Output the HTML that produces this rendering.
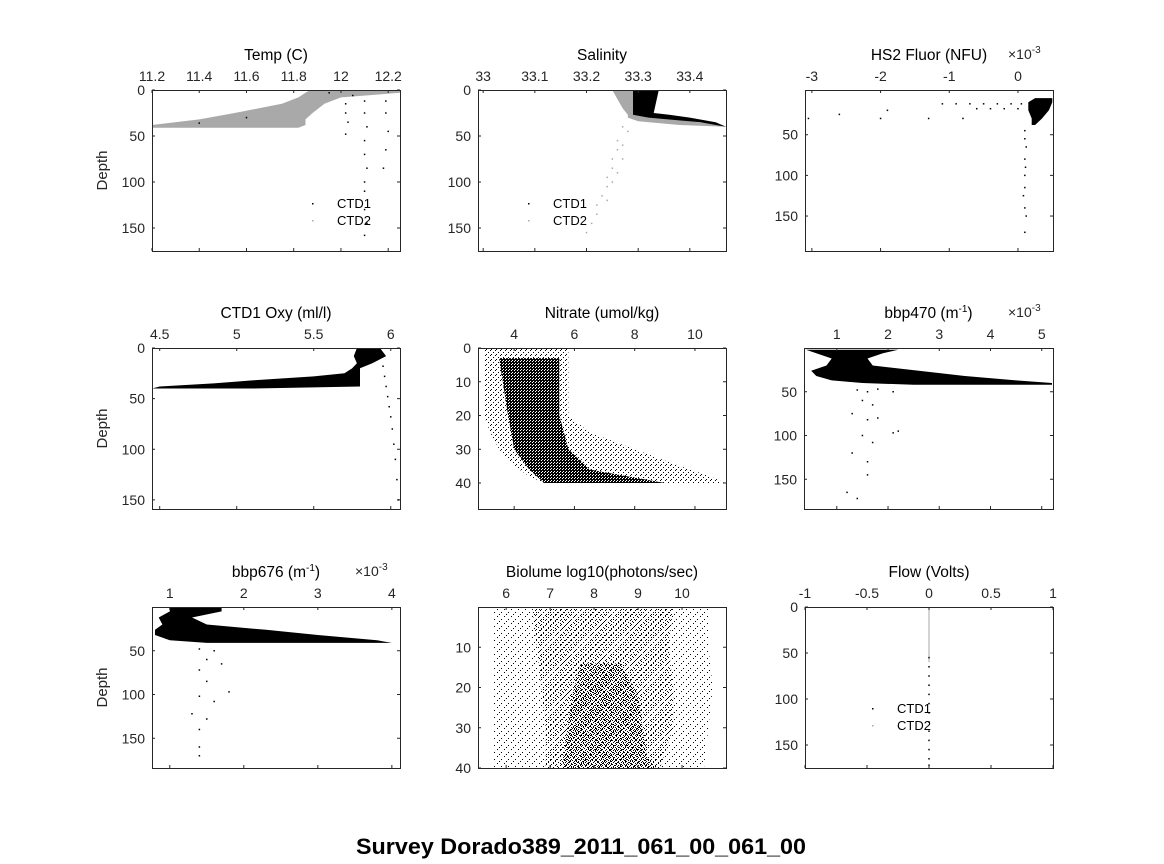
<!DOCTYPE html>
<html><head><meta charset="utf-8"><style>
body{margin:0;background:#fff;}
svg{display:block;font-family:"Liberation Sans","DejaVu Sans",sans-serif;}
</style></head><body>
<svg id="fig" width="1164" height="864" viewBox="0 0 1164 864">
<defs>
<pattern id="sparse" width="7" height="7" patternUnits="userSpaceOnUse"><rect x="0" y="0" width="1" height="1" fill="#000"/><rect x="4" y="3" width="1" height="1" fill="#000"/><rect x="2" y="5" width="1" height="1" fill="#000"/></pattern>
<pattern id="light" width="5" height="5" patternUnits="userSpaceOnUse"><rect x="0" y="0" width="1" height="1" fill="#000"/><rect x="3" y="2" width="1" height="1" fill="#000"/><rect x="1" y="4" width="1" height="1" fill="#000"/></pattern>
<pattern id="medium" width="4" height="4" patternUnits="userSpaceOnUse"><rect x="0" y="0" width="1" height="1" fill="#000"/><rect x="2" y="1" width="1" height="1" fill="#000"/><rect x="1" y="2" width="1" height="1" fill="#000"/><rect x="3" y="3" width="1" height="1" fill="#000"/></pattern>
<pattern id="dense" width="3" height="3" patternUnits="userSpaceOnUse"><rect width="3" height="3" fill="#000"/><rect x="1" y="1" width="1" height="1" fill="#fff"/><rect x="2" y="0" width="1" height="1" fill="#fff"/></pattern>
</defs>
<text x="581" y="854" text-anchor="middle" font-size="22" font-weight="bold" fill="#000" textLength="450" lengthAdjust="spacingAndGlyphs">Survey Dorado389_2011_061_00_061_00</text>
</svg>
<script>
// ---- data arrays ----
const tempTicks=[11.2,11.4,11.6,11.8,12,12.2];
const tempTickLabels=["11.2","11.4","11.6","11.8","12","12.2"];
const depthTicks=[0,50,100,150];
const depthTicks3=[50,100,150];
const tempBandDepth=[0,3,8,15,25,32,38,41];
const tempBandLo=[11.87,11.85,11.82,11.75,11.55,11.4,11.2,11.2];
const tempBandHi=[12.25,12.25,12.0,11.93,11.88,11.85,11.85,11.82];
const tempDotX=[12.1,12.1,12.11,12.1,12.1,12.11,12.1,12.1,12.1,12.11,12.1,12.02,12.02,12.03,12.02,12.19,12.19,12.2,12.19,12.18,11.95,12.05,11.6,11.4];
const tempDotY=[12,25,40,55,70,85,100,110,130,145,158,15,25,35,48,12,25,45,65,85,3,6,30,36];

const salTicks=[33,33.1,33.2,33.3,33.4];
const salTickLabels=["33","33.1","33.2","33.3","33.4"];
const salGrayDepth=[0,10,20,27,30,34,38,40];
const salGrayLo=[33.25,33.26,33.27,33.28,33.28,33.30,33.38,33.47];
const salGrayHi=[33.29,33.29,33.29,33.30,33.34,33.40,33.46,33.47];
const salBlackDepth=[0,25,27,30,35,40];
const salBlackLo=[33.29,33.29,33.29,33.32,33.42,33.47];
const salBlackHi=[33.34,33.33,33.36,33.40,33.45,33.47];
const salDotX=[33.27,33.26,33.26,33.25,33.25,33.24,33.24,33.23,33.22,33.22,33.21,33.2,33.28,33.27,33.27,33.26,33.25,33.24];
const salDotY=[40,55,65,75,85,95,105,115,125,135,145,155,45,60,75,90,100,120];

const fluTicks=[-3,-2,-1,0];
const fluTickLabels=["-3","-2","-1","0"];
const fluBandDepth=[5,10,20,30,38];
const fluBandLo=[0.25,0.15,0.15,0.2,0.2];
const fluBandHi=[0.5,0.5,0.45,0.35,0.25];
const fluDotX=[-1.1,-0.9,-0.7,-0.5,-0.3,-0.1,0.05,-0.6,-0.4,-0.2,0,-2.0,-0.8,-1.3,-2.6,-3.05,-1.9,0.1,0.1,0.12,0.1,0.11,0.1,0.1,0.08,0.1,0.12,0.1];
const fluDotY=[12,12,12,12,12,12,12,18,18,18,18,30,30,30,25,30,20,45,55,65,80,90,100,115,125,140,150,170];

const oxyTicks=[4.5,5,5.5,6];
const oxyTickLabels=["4.5","5","5.5","6"];
const oxyBandDepth=[0,8,15,20,25,28,32,35,38,40];
const oxyBandLo=[5.78,5.76,5.78,5.75,5.7,5.5,5.1,4.85,4.5,4.45];
const oxyBandHi=[5.93,5.97,5.88,5.8,5.8,5.8,5.8,5.8,5.8,5.1];
const oxyDotX=[5.95,5.96,5.97,5.98,5.99,6.0,6.01,6.02,6.03,6.04,6.05];
const oxyDotY=[18,28,38,48,58,68,80,95,110,130,150];

const nitTicks=[4,6,8,10];
const nitTickLabels=["4","6","8","10"];
const nitDepthTicks=[0,10,20,30,40];
const nitSparseDepth=[0,3,20,25,30,35,38,40];
const nitSparseLo=[3.0,3.0,3.0,3.2,3.5,4.0,4.5,5.0];
const nitSparseHi=[5.8,5.8,5.8,6.5,8.0,9.5,10.5,11.0];
const nitDenseDepth=[3,20,30,36,40];
const nitDenseLo=[3.5,3.8,4.0,4.5,5.0];
const nitDenseHi=[5.5,5.5,5.8,6.5,9.0];

const b470Ticks=[1,2,3,4,5];
const b470TickLabels=["1","2","3","4","5"];
const b470BandDepth=[2,6,12,20,26,32,37,40,42];
const b470BandLo=[0.4,0.6,0.9,0.8,0.5,0.6,0.9,1.5,2.5];
const b470BandHi=[2.2,1.9,1.6,1.7,2.6,3.5,4.5,5.2,5.2];
const b470DotX=[1.4,1.6,1.8,2.1,1.5,1.7,1.3,1.6,1.8,2.2,2.1,1.5,1.7,1.3,1.6,1.6,1.2,1.4];
const b470DotY=[48,50,47,50,60,65,75,82,80,95,97,100,108,120,130,145,165,172];

const b676Ticks=[1,2,3,4];
const b676TickLabels=["1","2","3","4"];
const b676BandDepth=[0,5,12,20,26,32,38,41];
const b676BandLo=[1.0,1.0,0.85,0.9,0.8,0.8,1.0,1.5];
const b676BandHi=[1.7,1.7,1.3,1.5,2.3,3.0,3.8,4.0];
const b676DotX=[1.4,1.6,1.5,1.7,1.4,1.5,1.8,1.4,1.6,1.3,1.5,1.4,1.4,1.4];
const b676DotY=[48,50,60,65,72,85,97,102,108,122,128,140,160,170];

const bioTicks=[6,7,8,9,10];
const bioTickLabels=["6","7","8","9","10"];
const bioDepthTicks=[10,20,30,40];
const bioSparseDepth=[0,10,20,30,40];
const bioSparseLo=[5.7,5.7,5.7,5.7,5.7];
const bioSparseHi=[10.6,10.6,10.7,10.6,10.5];
const bioMedDepth=[0,10,20,30,40];
const bioMedLo=[6.6,6.7,6.8,6.9,6.9];
const bioMedHi=[9.8,9.7,9.8,9.8,9.5];
const bioDenseDepth=[14,22,30,37,40];
const bioDenseLo=[7.7,7.5,7.4,7.3,7.3];
const bioDenseHi=[8.6,9.0,9.1,9.2,9.4];

const flowTicks=[-1,-0.5,0,0.5,1];
const flowTickLabels=["-1","-0.5","0","0.5","1"];
const flowLineDepth=[0,60];
const flowDotX=[0,0,0,0,0,0,0,0,0,0,0,0,0];
const flowDotY=[55,65,75,85,95,105,115,125,135,145,155,165,172];

// ---- drawing ----
const NS="http://www.w3.org/2000/svg";
const svg=document.getElementById('fig');
function mk(tag,attrs,parent){const e=document.createElementNS(NS,tag);for(const k in attrs)e.setAttribute(k,attrs[k]);(parent||svg).appendChild(e);return e;}

function panel(cfg){
  const g=mk('g',{});
  
  
  const sx=v=>cfg.x+(v-cfg.xmin)/(cfg.xmax-cfg.xmin)*cfg.w;
  const sy=v=>cfg.y+(v-cfg.ymin)/(cfg.ymax-cfg.ymin)*cfg.h;
  const clip=mk('clipPath',{id:'c'+cfg.name},g);
  mk('rect',{x:cfg.x,y:cfg.y,width:cfg.w,height:cfg.h},clip);
  const dg=mk('g',{'clip-path':'url(#c'+cfg.name+')'},g);
  (cfg.bands||[]).forEach(b=>{
    let d='';
    b.depth.forEach((dp,i)=>{d+=(i?'L':'M')+sx(b.lo[i]).toFixed(1)+','+sy(dp).toFixed(1);});
    for(let i=b.depth.length-1;i>=0;i--)d+='L'+sx(b.hi[i]).toFixed(1)+','+sy(b.depth[i]).toFixed(1);
    d+='Z';
    const p=mk('path',{d:d,fill:b.fill},dg);
    
    
  });
  (cfg.lines||[]).forEach(l=>{
    const p=mk('line',{x1:sx(l.x),x2:sx(l.x),y1:sy(l.d[0]),y2:sy(l.d[1]),stroke:l.color,'stroke-width':1},dg);
    
    
  });
  (cfg.dots||[]).forEach(s=>{
    s.x.forEach((v,i)=>{
      const r=mk('rect',{x:sx(v)-0.75,y:sy(s.y[i])-0.75,width:1.5,height:1.5,fill:s.color},dg);
      
      
    });
  });
  const box=mk('rect',{x:cfg.x+0.5,y:cfg.y+0.5,width:cfg.w,height:cfg.h,fill:'none',stroke:'#262626','stroke-width':1},g);
  
  
  cfg.xt.forEach((v,i)=>{
    const X=sx(v);
    mk('line',{x1:X,x2:X,y1:cfg.y,y2:cfg.y+3,stroke:'#262626'},g);
    mk('line',{x1:X,x2:X,y1:cfg.y+cfg.h,y2:cfg.y+cfg.h-3,stroke:'#262626'},g);
    const t=mk('text',{x:X,y:cfg.y-9,'text-anchor':'middle','font-size':14,fill:'#262626'},g);
    t.textContent=cfg.xl[i];
    
    
  });
  cfg.yt.forEach(v=>{
    const Y=sy(v);
    mk('line',{x1:cfg.x,x2:cfg.x+3,y1:Y,y2:Y,stroke:'#262626'},g);
    mk('line',{x1:cfg.x+cfg.w,x2:cfg.x+cfg.w-3,y1:Y,y2:Y,stroke:'#262626'},g);
    const t=mk('text',{x:cfg.x-7,y:Y+5,'text-anchor':'end','font-size':14,fill:'#262626'},g);
    t.textContent=String(v);
    
    
  });
  const tt=mk('text',{x:cfg.x+cfg.w/2,y:cfg.y-30,'text-anchor':'middle','font-size':15.5,fill:'#000'},g);
  tt.innerHTML=cfg.title;
  
  
  if(cfg.exp){
    const e=mk('text',{x:cfg.x+cfg.w-45,y:cfg.y-31,'font-size':14,fill:'#262626'},g);
    e.innerHTML='×10<tspan dy="-6" font-size="10">-3</tspan>';
    
    
  }
  if(cfg.ylabel){
    const yl=mk('text',{x:0,y:0,'text-anchor':'middle','font-size':15,fill:'#262626',transform:'translate('+(cfg.x-45)+','+(cfg.y+cfg.h/2)+') rotate(-90)'},g);
    yl.textContent='Depth';
    
    
  }
  if(cfg.legend){
    const L=cfg.legend;
    [['CTD1','#000',0],['CTD2','#aaa',17]].forEach(([lab,c,dy])=>{
      mk('rect',{x:L[0]-25,y:L[1]+dy-5,width:1.5,height:1.5,fill:c},g);
      const t=mk('text',{x:L[0],y:L[1]+dy,'font-size':13,fill:'#000'},g);
      t.textContent=lab;
      
      
    });
  }
}
const G='#a9a9a9';
panel({name:'temp',x:152,y:90,w:248,h:161,xmin:11.2,xmax:12.25,ymin:0,ymax:175,xt:tempTicks,xl:tempTickLabels,yt:depthTicks,title:'Temp (C)',ylabel:true,legend:[337,208],
  bands:[{name:'temp-ctd2-band',depth:tempBandDepth,lo:tempBandLo,hi:tempBandHi,fill:G}],
  dots:[{name:'temp-ctd1-point',x:tempDotX,y:tempDotY,color:'#000'}]});
panel({name:'salinity',x:478,y:90,w:248,h:161,xmin:32.99,xmax:33.47,ymin:0,ymax:175,xt:salTicks,xl:salTickLabels,yt:depthTicks,title:'Salinity',legend:[553,208],
  bands:[{name:'salinity-ctd2-band',depth:salGrayDepth,lo:salGrayLo,hi:salGrayHi,fill:G},{name:'salinity-ctd1-band',depth:salBlackDepth,lo:salBlackLo,hi:salBlackHi,fill:'#000'}],
  dots:[{name:'salinity-ctd2-point',x:salDotX,y:salDotY,color:G}]});
panel({name:'fluor',x:805,y:90,w:248,h:161,xmin:-3.1,xmax:0.51,ymin:-5,ymax:193,xt:fluTicks,xl:fluTickLabels,yt:depthTicks3,title:'HS2 Fluor (NFU)',exp:true,
  bands:[{name:'fluor-band',depth:fluBandDepth,lo:fluBandLo,hi:fluBandHi,fill:'#000'}],
  dots:[{name:'fluor-point',x:fluDotX,y:fluDotY,color:'#000'}]});
panel({name:'oxygen',x:152,y:348,w:248,h:161,xmin:4.45,xmax:6.06,ymin:0,ymax:159,xt:oxyTicks,xl:oxyTickLabels,yt:depthTicks,title:'CTD1 Oxy (ml/l)',ylabel:true,
  bands:[{name:'oxygen-band',depth:oxyBandDepth,lo:oxyBandLo,hi:oxyBandHi,fill:'#000'}],
  dots:[{name:'oxygen-point',x:oxyDotX,y:oxyDotY,color:'#000'}]});
panel({name:'nitrate',x:478,y:348,w:248,h:161,xmin:2.8,xmax:11.03,ymin:0,ymax:47.7,xt:nitTicks,xl:nitTickLabels,yt:nitDepthTicks,title:'Nitrate (umol/kg)',
  bands:[{name:'nitrate-sparse-cloud',depth:nitSparseDepth,lo:nitSparseLo,hi:nitSparseHi,fill:'url(#light)'},{name:'nitrate-dense-cloud',depth:nitDenseDepth,lo:nitDenseLo,hi:nitDenseHi,fill:'url(#dense)'}]});
panel({name:'bbp470',x:804,y:348,w:249,h:161,xmin:0.36,xmax:5.22,ymin:0,ymax:184,xt:b470Ticks,xl:b470TickLabels,yt:depthTicks3,title:'bbp470 (m<tspan dy="-6" font-size="10">-1</tspan><tspan dy="6">)</tspan>',exp:true,
  bands:[{name:'bbp470-band',depth:b470BandDepth,lo:b470BandLo,hi:b470BandHi,fill:'#000'}],
  dots:[{name:'bbp470-point',x:b470DotX,y:b470DotY,color:'#000'}]});
panel({name:'bbp676',x:152,y:607,w:248,h:161,xmin:0.76,xmax:4.11,ymin:0,ymax:184,xt:b676Ticks,xl:b676TickLabels,yt:depthTicks3,title:'bbp676 (m<tspan dy="-6" font-size="10">-1</tspan><tspan dy="6">)</tspan>',exp:true,ylabel:true,
  bands:[{name:'bbp676-band',depth:b676BandDepth,lo:b676BandLo,hi:b676BandHi,fill:'#000'}],
  dots:[{name:'bbp676-point',x:b676DotX,y:b676DotY,color:'#000'}]});
panel({name:'biolume',x:478,y:607,w:248,h:161,xmin:5.36,xmax:11.0,ymin:0,ymax:40,xt:bioTicks,xl:bioTickLabels,yt:bioDepthTicks,title:'Biolume log10(photons/sec)',
  bands:[{name:'biolume-sparse-cloud',depth:bioSparseDepth,lo:bioSparseLo,hi:bioSparseHi,fill:'url(#sparse)'},{name:'biolume-medium-cloud',depth:bioMedDepth,lo:bioMedLo,hi:bioMedHi,fill:'url(#light)'},{name:'biolume-dense-cloud',depth:bioDenseDepth,lo:bioDenseLo,hi:bioDenseHi,fill:'url(#medium)'}]});
panel({name:'flow',x:805,y:607,w:248,h:161,xmin:-1,xmax:1,ymin:0,ymax:175,xt:flowTicks,xl:flowTickLabels,yt:depthTicks,title:'Flow (Volts)',legend:[897,713],
  lines:[{name:'flow-ctd2-line',x:0,d:flowLineDepth,color:G}],
  dots:[{name:'flow-ctd1-point',x:flowDotX,y:flowDotY,color:'#000'}]});
</script>
</body></html>
